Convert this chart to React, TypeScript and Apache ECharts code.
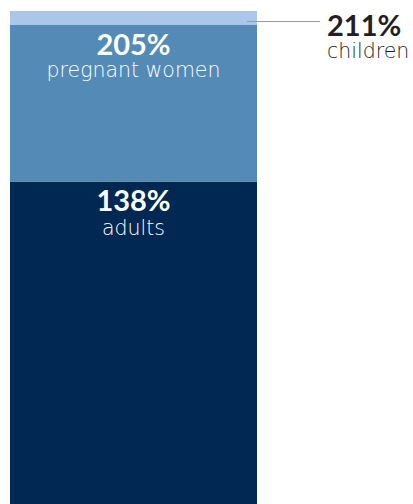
import React, { useEffect, useRef } from "react";
import * as echarts from "echarts";

const categories = ["adults", "pregnant women", "children"];
const cumulativeValues = [138, 205, 211];
const colors = ["#002853", "#538AB6", "#AAC7E9"];

export default function App() {
  const ref = useRef<HTMLDivElement>(null);
  useEffect(() => {
    if (!ref.current) return;
    const chart = echarts.init(ref.current, undefined, { renderer: "svg" });
    const increments = cumulativeValues.map((v, i) => (i === 0 ? v : v - cumulativeValues[i - 1]));
    const rich = (color: string, lh: number) => ({
      v: { fontFamily: "Lato", fontWeight: "bold", fontSize: 29, lineHeight: lh, color },
      l: { fontFamily: "DejaVu Sans", fontWeight: 200, fontSize: 20.5, lineHeight: 22, color },
    });
    const series = categories.map((name, i) => {
      const isLast = i === categories.length - 1;
      return {
        name,
        type: "bar",
        stack: "total",
        barWidth: "100%",
        itemStyle: { color: colors[i] },
        data: [increments[i]],
        label: {
          show: true,
          position: isLast ? [317, -3] : "insideTop",
          distance: i === 0 ? 1 : 2,
          align: isLast ? "left" : "center",
          formatter: () => `{v|${cumulativeValues[i]}%}\n{l|${name}}`,
          rich: rich(isLast ? "#231F20" : "#FFFFFF", i === 0 ? 34 : 32),
        },
      };
    });
    chart.setOption({
      animation: false,
      grid: { left: 10, top: 11, width: 247, height: 495 },
      xAxis: { type: "category", data: ["share"], show: false, boundaryGap: true },
      yAxis: { type: "value", min: 0, max: cumulativeValues[cumulativeValues.length - 1], show: false },
      series,
      graphic: [
        {
          type: "line",
          shape: { x1: 247, y1: 21.5, x2: 320, y2: 21.5 },
          style: { stroke: "#9A9A9A", lineWidth: 1 },
          z: 100,
        },
      ],
    });
    return () => chart.dispose();
  }, []);
  return (
    <div
      ref={ref}
      style={{ position: "fixed", left: 0, top: 0, width: 413, height: 504, background: "#fff" }}
    />
  );
}
